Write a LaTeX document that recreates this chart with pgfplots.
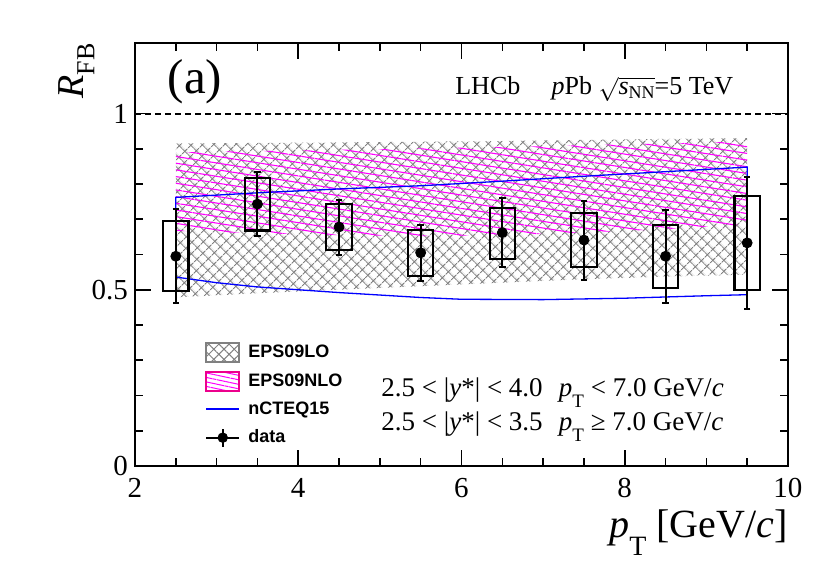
\documentclass[border=0pt]{standalone}
\usepackage{fontspec}
\setmainfont{Liberation Serif}
\newfontfamily\helv{Liberation Sans}
\usepackage{pgfplots}
\pgfplotsset{compat=1.18}
\usetikzlibrary{patterns.meta}

\begin{document}
\begin{tikzpicture}
\useasboundingbox (-67.5pt,-48.5pt) rectangle (347.5pt,233pt);
\begin{axis}[
  at={(0pt,0pt)}, anchor=south west,
  width=326.5pt, height=211.5pt, scale only axis,
  xmin=2, xmax=10, ymin=0, ymax=1.2,
  xtick={2,4,6,8,10}, minor x tick num=3,
  ytick={0,0.5,1}, minor y tick num=4,
  tick align=inside, xtick pos=both, ytick pos=both,
  major tick length=8pt, minor tick length=4pt,
  axis line style={line width=1pt},
  every tick/.style={black, line width=0.8pt},
  tick label style={font=\fontsize{14.5}{16}\selectfont},
  xticklabel style={yshift=-2.5pt},
  /pgf/number format/assume math mode=true,
  clip=false,
  legend style={draw=none, fill=none, inner sep=0pt, row sep=4.2pt,
    font=\helv\bfseries\fontsize{9}{11}\selectfont,
    at={(rel axis cs:0.107,0.292)}, anchor=north west,
    nodes={inner sep=1pt},
    /tikz/every odd column/.append style={column sep=3pt}},
  legend cell align=left,
]
% EPS09LO band
\addplot[draw=none, pattern={Hatch[angle=45,distance=4pt,line width=0.55pt]}, pattern color=gray, forget plot]
 coordinates {(2.5,0.915)(4.5,0.918)(6.5,0.922)(8.5,0.928)(9.5,0.930)
 (9.5,0.543)(8.5,0.537)(7.5,0.530)(6.5,0.520)(5.5,0.510)(4.5,0.500)(3.5,0.490)(2.5,0.478)} -- cycle;
% EPS09NLO band
\addplot[draw=none, pattern={Lines[angle=-9,distance=3.3pt,line width=0.55pt]}, pattern color=magenta, forget plot]
 coordinates {(2.5,0.890)(4.5,0.897)(6.5,0.905)(8.5,0.915)(9.5,0.921)
 (9.5,0.685)(8.5,0.672)(7.5,0.662)(6.5,0.655)(5.5,0.652)(4.5,0.655)(3.5,0.660)(2.5,0.667)} -- cycle;
% nCTEQ15 band outline
\addplot[blue, line width=0.65pt, forget plot]
 coordinates {(2.5,0.762)(3.5,0.775)(4.5,0.786)(5.5,0.795)(6.5,0.808)(7.5,0.822)(8.5,0.835)(9.5,0.848)
 (9.5,0.486)(9,0.483)(8,0.476)(7,0.472)(6,0.473)(5.5,0.478)(5,0.485)(4.5,0.492)(4,0.500)(3.5,0.508)(3,0.520)(2.5,0.536)} -- cycle;
% unity line
\addplot[black, dash pattern=on 3pt off 2pt, line width=1pt, forget plot] coordinates {(2,1)(10,1)};
% systematic boxes
\addplot[black, line width=1.05pt, line cap=rect, unbounded coords=jump, forget plot] coordinates {
 (2.345,0.497)(2.655,0.497)(2.655,0.695)(2.345,0.695)(2.345,0.497) (nan,nan)
 (3.345,0.668)(3.655,0.668)(3.655,0.816)(3.345,0.816)(3.345,0.668) (nan,nan)
 (4.345,0.613)(4.655,0.613)(4.655,0.742)(4.345,0.742)(4.345,0.613) (nan,nan)
 (5.345,0.540)(5.655,0.540)(5.655,0.670)(5.345,0.670)(5.345,0.540) (nan,nan)
 (6.345,0.588)(6.655,0.588)(6.655,0.733)(6.345,0.733)(6.345,0.588) (nan,nan)
 (7.345,0.565)(7.655,0.565)(7.655,0.717)(7.345,0.717)(7.345,0.565) (nan,nan)
 (8.345,0.505)(8.655,0.505)(8.655,0.683)(8.345,0.683)(8.345,0.505) (nan,nan)
 (9.345,0.500)(9.655,0.500)(9.655,0.767)(9.345,0.767)(9.345,0.500)
};
% data points
\addplot[black, only marks, mark=*, mark size=2.5pt, forget plot,
  error bars/.cd, y dir=both, y explicit,
  error bar style={line width=1pt},
  error mark options={rotate=90, mark size=1.6pt, line width=1pt}]
 coordinates {
 (2.5,0.595) +- (0,0.134)
 (3.5,0.743) +- (0,0.090)
 (4.5,0.678) +- (0,0.078)
 (5.5,0.605) +- (0,0.079)
 (6.5,0.662) +- (0,0.097)
 (7.5,0.641) +- (0,0.112)
 (8.5,0.595) +- (0,0.132)
 (9.5,0.633) +- (0,0.188)
 };
% legend
\addlegendimage{legend image code/.code={\draw[draw=gray, line width=1pt, pattern={Hatch[angle=45,distance=3.6pt,line width=0.5pt]}, pattern color=gray] (0pt,-4.75pt) rectangle (16.5pt,4.75pt);}}
\addlegendentry{EPS09LO}
\addlegendimage{legend image code/.code={\draw[draw=magenta, line width=1pt, pattern={Lines[angle=-12,distance=2.2pt,line width=0.5pt]}, pattern color=magenta] (0pt,-4.75pt) rectangle (16.5pt,4.75pt);}}
\addlegendentry{EPS09NLO}
\addlegendimage{legend image code/.code={\draw[blue, line width=1pt] (0pt,0pt) -- (16.5pt,0pt);}}
\addlegendentry{nCTEQ15}
\addlegendimage{legend image code/.code={\draw[black, line width=0.9pt] (0pt,0pt) -- (16.5pt,0pt); \draw[black, line width=0.9pt] (8.25pt,-4.5pt) -- (8.25pt,4.5pt); \fill[black] (8.25pt,0pt) circle (2.4pt);}}
\addlegendentry{data}
% texts
\node[font=\fontsize{24.5}{26}\selectfont] at (axis cs:2.735,1.089) {(a)};
\node[anchor=base west, inner sep=0pt, font=\fontsize{13}{15}\selectfont] at (axis cs:5.92,1.0525)
 {LHCb\hspace{1.2em}\textit{p}Pb $\sqrt{\mbox{\textit{s}\raisebox{-0.3ex}{\fontsize{9}{9}\selectfont NN}}}$=5 TeV};
\node[anchor=base west, inner sep=0pt, font=\fontsize{13.5}{15}\selectfont] at (axis cs:5.015,0.198)
 {2.5 < |\textit{y}*| < 4.0\hspace{0.6em}\textit{p}\raisebox{-0.42em}{\fontsize{9.5}{9.5}\selectfont T} < 7.0 GeV/\textit{c}};
\node[anchor=base west, inner sep=0pt, font=\fontsize{13.5}{15}\selectfont] at (axis cs:5.015,0.102)
 {2.5 < |\textit{y}*| < 3.5\hspace{0.6em}\textit{p}\raisebox{-0.42em}{\fontsize{9.5}{9.5}\selectfont T} ≥ 7.0 GeV/\textit{c}};
\node[anchor=base east, inner sep=0pt, font=\fontsize{20}{22}\selectfont] at (axis cs:10,-0.204)
 {\textit{p}\raisebox{-0.45em}{\fontsize{14}{14}\selectfont T} [GeV/\textit{c}]};
\node[rotate=90, anchor=base east, inner sep=0pt, font=\fontsize{19}{21}\selectfont] at (axis cs:1.363,1.2)
 {\textit{R}\raisebox{-0.3em}{\fontsize{13}{13}\selectfont FB}};
\end{axis}
\end{tikzpicture}
\end{document}
